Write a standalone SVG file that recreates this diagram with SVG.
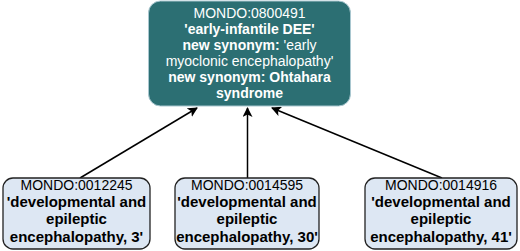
<svg xmlns="http://www.w3.org/2000/svg" width="520" height="251" viewBox="0 0 520 251">
<defs>
<marker id="arr" viewBox="0 0 10 10" refX="9" refY="5" markerWidth="10" markerHeight="10" markerUnits="userSpaceOnUse" orient="auto">
<path d="M0,0 L10,5 L0,10 L2.5,5 z" fill="#000"/>
</marker>
<style>
text{font-family:"Liberation Sans",Arial,sans-serif;text-anchor:middle}
.top text{font-size:14px;fill:#fff}
.leaf rect{fill:#dde7f3;stroke:#222;stroke-width:1.3}
.leaf text{font-size:14px;fill:#000}
.leaf text.b{font-size:15px}
.b{font-weight:bold}
.edges line{stroke:#000;stroke-width:1.5;marker-end:url(#arr)}
</style>
</defs>
<g class="edges">
<line x1="80" y1="178" x2="197" y2="108"/>
<line x1="247.5" y1="178" x2="247.5" y2="108"/>
<line x1="442" y1="178" x2="272" y2="108"/>
</g>
<g id="n0800491" class="top">
<rect x="148.5" y="1" width="202" height="105" rx="12" fill="#2c6f73" stroke="#a9c7d0" stroke-width="1"/>
<text x="249.5" y="18">MONDO:0800491</text>
<text x="249.5" y="33.5" class="b">'early-infantile DEE'</text>
<text x="249.5" y="49.5"><tspan class="b">new synonym:</tspan> 'early</text>
<text x="249.5" y="65.5">myoclonic encephalopathy'</text>
<text x="249.5" y="81.5" class="b">new synonym: Ohtahara</text>
<text x="249.5" y="97.5" class="b">syndrome</text>
</g>
<g id="n0012245" class="leaf">
<rect x="3" y="178" width="147" height="71" rx="10"/>
<text x="76.5" y="190">MONDO:0012245</text>
<text x="76.5" y="207" class="b">'developmental and</text>
<text x="76.5" y="224" class="b">epileptic</text>
<text x="76.5" y="241.5" class="b">encephalopathy, 3'</text>
</g>
<g id="n0014595" class="leaf">
<rect x="175" y="178" width="144" height="71" rx="10"/>
<text x="247" y="190">MONDO:0014595</text>
<text x="247" y="207" class="b">'developmental and</text>
<text x="247" y="224" class="b">epileptic</text>
<text x="247" y="241.5" class="b">encephalopathy, 30'</text>
</g>
<g id="n0014916" class="leaf">
<rect x="365" y="178" width="152" height="71" rx="10"/>
<text x="441" y="190">MONDO:0014916</text>
<text x="441" y="207" class="b">'developmental and</text>
<text x="441" y="224" class="b">epileptic</text>
<text x="441" y="241.5" class="b">encephalopathy, 41'</text>
</g>
</svg>
